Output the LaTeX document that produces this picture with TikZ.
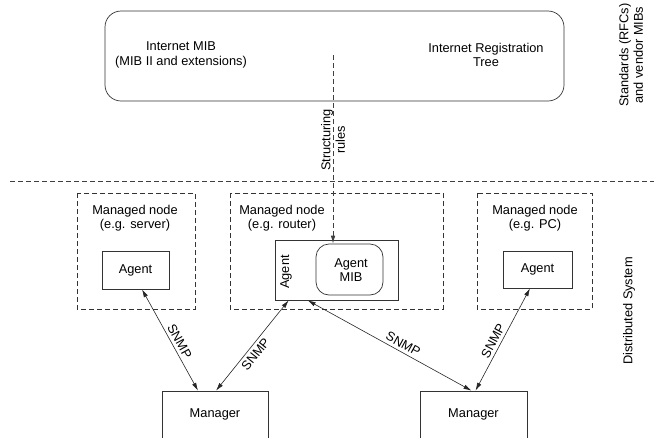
\documentclass[tikz,border=0pt]{standalone}
\usepackage{fontspec}
\setmainfont{Liberation Sans}
\usetikzlibrary{arrows.meta}
\begin{document}
\begin{tikzpicture}[x=1pt,y=-1pt,
  txt/.style={font=\fontsize{12.8}{14.5}\selectfont, align=center, inner sep=0pt},
  box/.style={draw=black!80, line width=0.7pt, inner sep=0pt},
  dbox/.style={draw=black!80, line width=0.7pt, dash pattern=on 5pt off 3pt},
  dline/.style={draw=black!75, line width=0.7pt, dash pattern=on 5pt off 3pt},
  snmp/.style={draw=black!85, line width=0.6pt, {Latex[length=8pt,width=4.5pt]}-{Latex[length=8pt,width=4.5pt]}},
  lab/.style={txt, sloped, inner sep=3pt}
]
\useasboundingbox (0,0) rectangle (654,437);

% top standards box
\draw[box, rounded corners=16pt] (105,11) rectangle (564,101);
\node[txt] (imib) at (181,55) {Internet MIB\\(MIB II and extensions)};
\node[txt] (ireg) at (486,55) {Internet Registration\\Tree};
\node[txt, rotate=90] (std) at (631,55) {Standards (RFCs)\\and vendor MIBs};

% separator
\coordinate (hl) at (10,181);
\coordinate (hr) at (654,181);
\draw[dline] (hl) -- (hr);

\node[txt, rotate=90] (dist) at (629,311) {Distributed System};

% managed node boxes
\draw[dbox] (77,193) rectangle (195,309);
\draw[dbox] (230,193) rectangle (443,309);
\draw[dbox] (477,193) rectangle (592,309);
\node[txt] (mn1) at (135,218) {Managed node\\(e.g. server)};
\node[txt] (mn2) at (282,218) {Managed node\\(e.g. router)};
\node[txt] (mn3) at (535,218) {Managed node\\(e.g. PC)};

% agents
\node[box, minimum width=67pt, minimum height=38pt] (sagent) at (135.5,270) {};
\node[txt] at (sagent) {Agent};
\node[box, minimum width=123pt, minimum height=60pt] (ragent) at (336.5,270) {};
\node[txt, rotate=90] (ragtxt) at (286,272) {Agent};
\node[box, rounded corners=13pt, minimum width=67pt, minimum height=51pt] (mib) at (349.5,269.5) {};
\node[txt] (mibtxt) at (351,270) {Agent\\MIB};
\node[box, minimum width=69pt, minimum height=37pt] (pagent) at (537.5,269.5) {};
\node[txt] at (pagent) {Agent};

% managers
\node[box, minimum width=106pt, minimum height=47pt] (m1) at (215,414.5) {};
\node[txt] at (215,414) {Manager};
\node[box, minimum width=107pt, minimum height=47pt] (m2) at (473.5,414.5) {};
\node[txt] at (473.5,414) {Manager};

% structuring rules
\coordinate (sr) at (333,55);
\draw[dline, -{Latex[length=8pt,width=4.5pt]}] (sr) -- (sr |- mib.north);
\node[txt, rotate=90] (srtxt) at (333,140) {Structuring\\rules};

% SNMP links
\draw[snmp] ([xshift=6.5pt]sagent.south) -- node[lab, above, pos=0.55] {SNMP} ([xshift=-17pt]m1.north);
\draw[snmp] ([xshift=1pt]m1.north) -- node[lab, below, pos=0.46] {SNMP} ([xshift=14pt]ragent.south west);
\draw[snmp] ([xshift=33pt]ragent.south west) -- node[lab, above, pos=0.56] {SNMP} ([xshift=-2pt]m2.north);
\draw[snmp] ([xshift=2pt]m2.north) -- node[lab, above, pos=0.45] {SNMP} ([xshift=-7.5pt]pagent.south);
\end{tikzpicture}
\end{document}
